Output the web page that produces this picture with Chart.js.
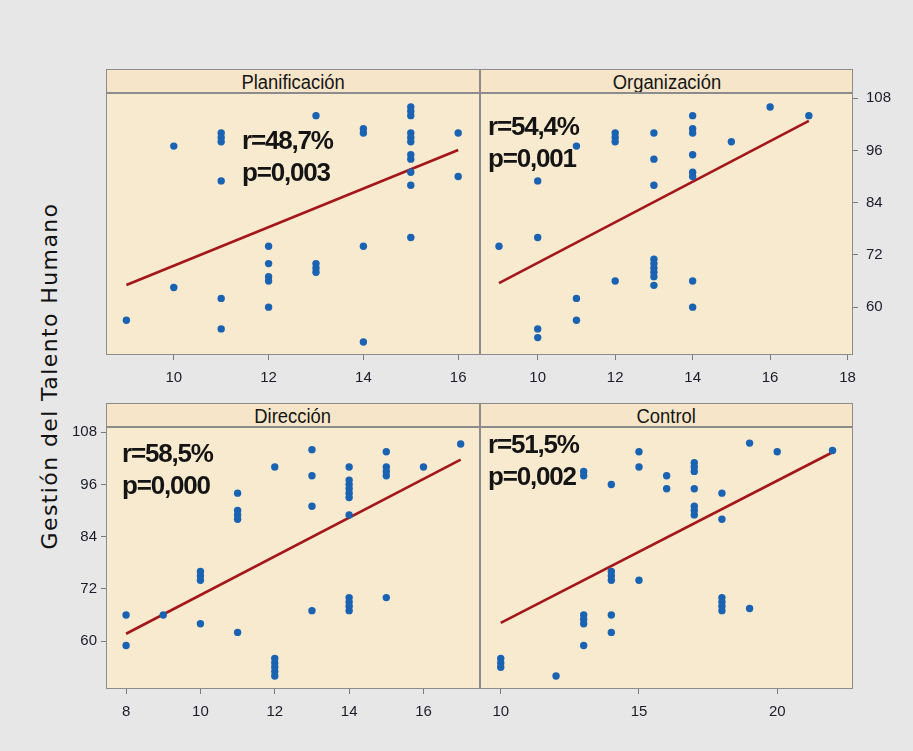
<!DOCTYPE html>
<html>
<head>
<meta charset="utf-8">
<script src="https://cdn.jsdelivr.net/npm/chart.js@4.4.1/dist/chart.umd.min.js"></script>
<style>
  body { margin: 0; background: #e7e7e7; width: 913px; height: 751px; overflow: hidden; font-family: "Liberation Sans", Arial, sans-serif; }
  #wrap { position: relative; width: 913px; height: 751px; }
  canvas { position: absolute; }
  .strip { position: absolute; height: 24px; background: #f6e5c8; border: 1px solid #8c8c8c; box-sizing: border-box;
           font-size: 20px; line-height: 24px; color: #151515; text-align: center; overflow: hidden; }
  .strip span { display: inline-block; transform: scaleX(0.92); }
  .stat { position: absolute; font-weight: bold; font-size: 26px; letter-spacing: -1.2px; color: #141414; line-height: 32px; }
  #ytitle { position: absolute; left: 49px; top: 376px; transform: translate(-50%, -50%) rotate(-90deg);
            font-family: "DejaVu Sans", sans-serif; font-size: 22px; color: #111; white-space: nowrap; letter-spacing: 1.4px; }
</style>
</head>
<body>
<div id="wrap">
  <div id="ytitle">Gestión del Talento Humano</div>
</div>
<script>
// Panel titles and stats
const panelNames = ['Planificación', 'Organización', 'Dirección', 'Control'];
const rValues = ['r=48,7%', 'r=54,4%', 'r=58,5%', 'r=51,5%'];
const pValues = ['p=0,003', 'p=0,001', 'p=0,000', 'p=0,002'];

// Tick labels
const yTicks = [60, 72, 84, 96, 108];
const xTicksPlan = [10, 12, 14, 16];
const xTicksOrg = [10, 12, 14, 16, 18];
const xTicksDir = [8, 10, 12, 14, 16];
const xTicksCtrl = [10, 15, 20];

// Planificación
const planX = [9, 10, 10, 11, 11, 11, 11, 11, 11, 12, 12, 12, 12, 12, 13, 13, 13, 13, 14, 14, 14, 14,
               15, 15, 15, 15, 15, 15, 15, 15, 15, 15, 15, 16, 16];
const planY = [57, 97, 64.5, 100, 99, 98, 89, 62, 55, 74, 70, 67, 66, 60, 104, 70, 69, 68, 101, 100, 74, 52,
               106, 105, 104, 100, 99, 98, 95, 94, 91, 88, 76, 100, 90];
const planFit = [[9, 65.1], [16, 96.1]];

// Organización
const orgX = [9, 10, 10, 10, 10, 11, 11, 11, 12, 12, 12, 12, 13, 13, 13, 13, 13, 13, 13, 13, 13,
              14, 14, 14, 14, 14, 14, 14, 14, 15, 16, 17];
const orgY = [74, 89, 76, 55, 53, 97, 62, 57, 100, 99, 98, 66, 100, 94, 88, 71, 70, 69, 68, 67, 65,
              104, 101, 100, 95, 91, 90, 66, 60, 98, 106, 104];
const orgFit = [[9, 65.5], [17, 102.8]];

// Dirección
const dirX = [8, 8, 9, 10, 10, 10, 10, 11, 11, 11, 11, 11, 12, 12, 12, 12, 12, 12, 13, 13, 13, 13,
              14, 14, 14, 14, 14, 14, 14, 14, 14, 14, 14, 15, 15, 15, 15, 15, 16, 17];
const dirY = [66, 59, 66, 76, 75, 74, 64, 94, 90, 89, 88, 62, 100, 56, 55, 54, 53, 52, 104, 98, 91, 67,
              100, 97, 96, 95, 94, 93, 89, 70, 69, 68, 67, 103.5, 100, 99, 98, 70, 100, 105.3];
const dirFit = [[8, 61.7], [17, 101.7]];

// Control
const ctrlX = [10, 10, 10, 12, 13, 13, 13, 13, 13, 13, 14, 14, 14, 14, 14, 14, 15, 15, 15, 16, 16,
               17, 17, 17, 17, 17, 17, 17, 18, 18, 18, 18, 18, 18, 19, 19, 20, 22];
const ctrlY = [56, 55, 54, 52, 99, 98, 66, 65, 64, 59, 96, 76, 75, 74, 66, 62, 103.5, 100, 74, 98, 95,
               101, 100, 99, 95, 91, 90, 89, 94, 88, 70, 69, 68, 67, 105.5, 67.5, 103.5, 103.8];
const ctrlFit = [[10, 64.2], [22, 103.4]];

const panelBg = {
  id: 'panelBg',
  beforeDraw(chart) {
    const { ctx, chartArea: a } = chart;
    ctx.save();
    ctx.fillStyle = '#f8eacf';
    ctx.fillRect(a.left, a.top, a.width, a.height);
    ctx.restore();
  },
  afterDraw(chart) {
    const { ctx, chartArea: a } = chart;
    ctx.save();
    ctx.strokeStyle = '#8c8c8c';
    ctx.lineWidth = 1;
    ctx.strokeRect(a.left + 0.5, a.top + 0.5, a.width - 1, a.height - 1);
    ctx.restore();
  }
};

const tickFont = { family: '"Liberation Sans", Arial, sans-serif', size: 15 };
const wrap = document.getElementById('wrap');

function makePanel(i, box, xs, ys, fit, xMin, xMax, xTicks, ySide) {
  const padOut = 50, padTop = 20, axisW = ySide ? 40 : 0, axisH = 32, padBottom = 10;
  const cv = document.createElement('canvas');
  cv.width = box.w + 2 * padOut;
  cv.height = padTop + box.h + axisH + padBottom;
  cv.style.left = (box.l - padOut) + 'px';
  cv.style.top = (box.t - padTop) + 'px';
  wrap.appendChild(cv);

  // strip header
  const s = document.createElement('div');
  s.className = 'strip';
  s.style.left = box.l + 'px';
  s.style.top = (box.t - 24) + 'px';
  s.style.width = box.w + 'px';
  s.innerHTML = '<span>' + panelNames[i] + '</span>';
  wrap.appendChild(s);

  // r / p text
  const st = document.createElement('div');
  st.className = 'stat';
  st.style.left = box.sx + 'px';
  st.style.top = box.sy + 'px';
  st.innerHTML = rValues[i] + '<br>' + pValues[i];
  wrap.appendChild(st);

  new Chart(cv, {
    data: {
      datasets: [
        {
          type: 'scatter',
          data: xs.map((x, k) => ({ x: x, y: ys[k] })),
          backgroundColor: '#1a62b2',
          borderWidth: 0,
          pointRadius: 3.7,
          pointStyle: 'circle'
        },
        {
          type: 'line',
          data: fit.map(p => ({ x: p[0], y: p[1] })),
          borderColor: '#a3161a',
          borderWidth: 2.6,
          pointRadius: 0,
          fill: false
        }
      ]
    },
    options: {
      responsive: false,
      animation: false,
      devicePixelRatio: 1,
      layout: {
        padding: {
          left: padOut - (ySide === 'left' ? axisW : 0),
          right: padOut - (ySide === 'right' ? axisW : 0),
          top: padTop,
          bottom: padBottom
        }
      },
      plugins: { legend: { display: false }, tooltip: { enabled: false } },
      scales: {
        x: {
          type: 'linear',
          min: xMin, max: xMax,
          afterBuildTicks: sc => { sc.ticks = xTicks.map(v => ({ value: v })); },
          afterFit: sc => { sc.height = axisH; },
          grid: { drawOnChartArea: false, drawTicks: true, tickLength: 5, color: '#7a7a7a' },
          border: { display: false },
          ticks: { font: tickFont, color: '#1b1b2a', padding: 9, maxRotation: 0, autoSkip: false }
        },
        y: {
          type: 'linear',
          display: ySide ? true : false,
          position: ySide || 'left',
          min: 49, max: 109.2,
          afterBuildTicks: sc => { sc.ticks = yTicks.map(v => ({ value: v })); },
          afterFit: sc => { sc.width = axisW; },
          grid: { drawOnChartArea: false, drawTicks: true, tickLength: 5, color: '#7a7a7a' },
          border: { display: false },
          ticks: { font: tickFont, color: '#1b1b2a', padding: ySide === 'right' ? 8 : 4, autoSkip: false }
        }
      }
    },
    plugins: [panelBg]
  });
}

makePanel(0, { l: 106, t: 93, w: 374, h: 262, sx: 242, sy: 124 }, planX, planY, planFit, 8.57, 16.46, xTicksPlan, null);
makePanel(1, { l: 480, t: 93, w: 373, h: 262, sx: 488, sy: 110 }, orgX, orgY, orgFit, 8.51, 18.14, xTicksOrg, 'right');
makePanel(2, { l: 106, t: 427, w: 374, h: 262, sx: 122, sy: 437 }, dirX, dirY, dirFit, 7.46, 17.52, xTicksDir, 'left');
makePanel(3, { l: 480, t: 427, w: 373, h: 262, sx: 488, sy: 428 }, ctrlX, ctrlY, ctrlFit, 9.25, 22.74, xTicksCtrl, null);
</script>
</body>
</html>
